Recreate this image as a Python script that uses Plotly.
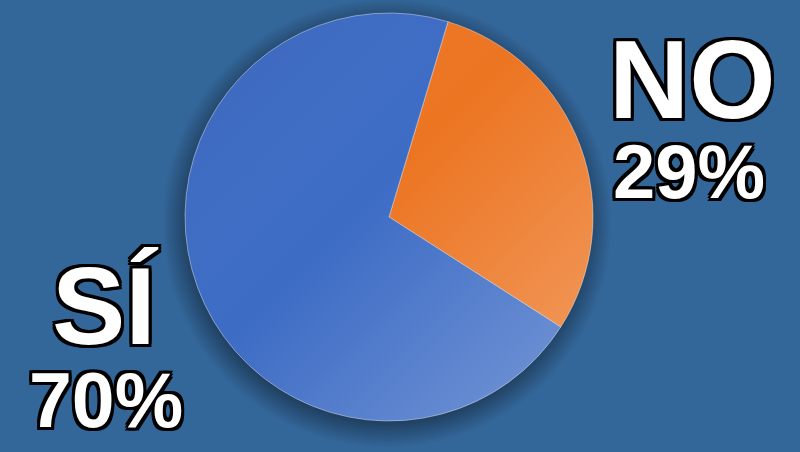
import base64
import plotly.graph_objects as go

# survey result
labels = ["NO", "SÍ"]
values = [29.4, 70.6]
colors = ["#ec7522", "#3d6cc5"]

bg = "#336699"

fig = go.Figure()

fig.add_trace(go.Pie(
    labels=labels, values=values, sort=False, direction="clockwise",
    rotation=16.8, textinfo="none", hoverinfo="label+percent",
    marker=dict(colors=colors, line=dict(color="rgba(255,255,255,0.4)", width=1)),
    domain=dict(x=[185 / 800, 593 / 800], y=[1 - 421 / 452, 1 - 13 / 452]),
    showlegend=False,
))

def svg_uri(svg):
    return "data:image/svg+xml;base64," + base64.b64encode(svg.encode()).decode()

# soft drop shadow behind the pie
shadow = svg_uri(
    "<svg xmlns='http://www.w3.org/2000/svg' width='120' height='120'>"
    "<defs><radialGradient id='s' cx='0.5' cy='0.5' r='0.5'>"
    "<stop offset='0.86' stop-color='#000' stop-opacity='0.6'/>"
    "<stop offset='1' stop-color='#000' stop-opacity='0'/>"
    "</radialGradient></defs>"
    "<circle cx='60' cy='60' r='60' fill='url(#s)'/></svg>")
# light gradient on top of the slices
shine = svg_uri(
    "<svg xmlns='http://www.w3.org/2000/svg' width='100' height='100'>"
    "<defs><linearGradient id='g' x1='0' y1='0' x2='1' y2='1'>"
    "<stop offset='0' stop-color='#000' stop-opacity='0.06'/>"
    "<stop offset='0.45' stop-color='#fff' stop-opacity='0'/>"
    "<stop offset='1' stop-color='#fff' stop-opacity='0.3'/>"
    "</linearGradient></defs>"
    "<circle cx='50' cy='50' r='50' fill='url(#g)'/></svg>")

r = 204
cx, cy = 389, 217
sr = r * 1.1
fig.add_layout_image(dict(
    source=shadow, xref="paper", yref="paper",
    x=(cx - 2 - sr) / 800, y=1 - (cy + 6 - sr) / 452,
    sizex=2 * sr / 800, sizey=2 * sr / 452, sizing="stretch",
    xanchor="left", yanchor="top", layer="below", opacity=0.75))
fig.add_layout_image(dict(
    source=shine, xref="paper", yref="paper",
    x=(cx - r) / 800, y=1 - (cy - r) / 452,
    sizex=2 * r / 800, sizey=2 * r / 452, sizing="stretch",
    xanchor="left", yanchor="top", layer="above"))

o = 3
outline = ", ".join(f"{dx}px {dy}px 0 #000" for dx in (-o, 0, o) for dy in (-o, 0, o) if dx or dy)

def label(text, x, y, size):
    fig.add_annotation(
        text=text, x=x, y=y, xref="paper", yref="paper",
        xanchor="center", yanchor="middle", showarrow=False,
        font=dict(family="Liberation Sans", size=size, color="white",
                  weight="bold", shadow=outline))

label(labels[0], 692 / 800, 1 - 80 / 452, 111)
label(f"{int(values[0])}%", 689 / 800, 1 - 172 / 452, 76)
label(labels[1], 105 / 800, 1 - 305 / 452, 110)
label(f"{int(values[1])}%", 106 / 800, 1 - 400 / 452, 77)

fig.update_layout(
    width=800, height=452,
    margin=dict(l=0, r=0, t=0, b=0),
    paper_bgcolor=bg, plot_bgcolor=bg,
)

fig.write_html("out.html", config={"displayModeBar": False},
               post_script="document.body.style.margin='0';")
